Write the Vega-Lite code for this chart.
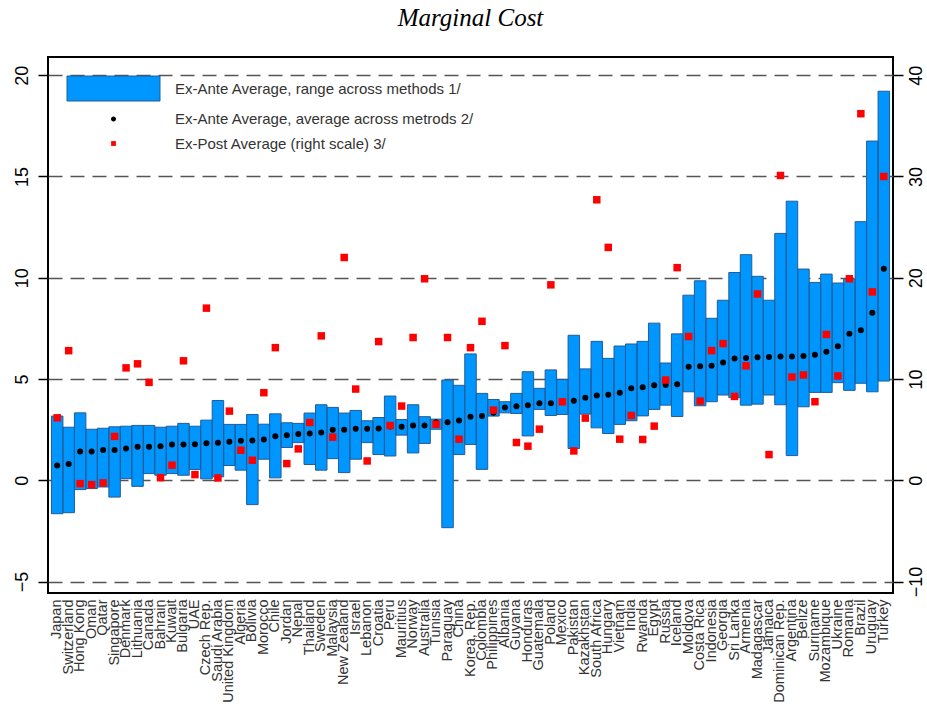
{
  "$schema": "https://vega.github.io/schema/vega-lite/v6.json",
  "autosize": {"type": "none"},
  "width": 845,
  "height": 536,
  "padding": {"left": 48, "top": 57, "right": 34, "bottom": 115},
  "background": "white",
  "title": {"text": "Marginal Cost", "font": "Liberation Serif", "fontStyle": "italic", "fontWeight": "normal", "fontSize": 25, "color": "black", "anchor": "middle", "frame": "group", "offset": 26},
  "config": {"view": {"stroke": "black", "strokeWidth": 2}},
  "data": {"values": [
    {"c": "Japan", "lo": -1.65, "hi": 3.17, "avg": 0.73, "post": 6.17},
    {"c": "Switzerland", "lo": -1.60, "hi": 2.62, "avg": 0.81, "post": 12.8},
    {"c": "Hong Kong", "lo": -0.46, "hi": 3.33, "avg": 1.42, "post": -0.33},
    {"c": "Oman", "lo": -0.41, "hi": 2.52, "avg": 1.42, "post": -0.43},
    {"c": "Qatar", "lo": -0.33, "hi": 2.57, "avg": 1.49, "post": -0.26},
    {"c": "Singapore", "lo": -0.83, "hi": 2.64, "avg": 1.49, "post": 4.33},
    {"c": "Denmark", "lo": 0.08, "hi": 2.67, "avg": 1.57, "post": 11.1},
    {"c": "Lithuania", "lo": -0.30, "hi": 2.71, "avg": 1.65, "post": 11.5},
    {"c": "Canada", "lo": 0.33, "hi": 2.71, "avg": 1.65, "post": 9.67},
    {"c": "Bahrain", "lo": 0.25, "hi": 2.62, "avg": 1.68, "post": 0.26},
    {"c": "Kuwait", "lo": 0.33, "hi": 2.67, "avg": 1.77, "post": 1.49},
    {"c": "Bulgaria", "lo": 0.25, "hi": 2.81, "avg": 1.77, "post": 11.8},
    {"c": "UAE", "lo": 0.53, "hi": 2.67, "avg": 1.78, "post": 0.56},
    {"c": "Czech Rep.", "lo": 0.07, "hi": 2.97, "avg": 1.83, "post": 17.0},
    {"c": "Saudi Arabia", "lo": 0.17, "hi": 3.94, "avg": 1.85, "post": 0.23},
    {"c": "United Kingdom", "lo": 0.73, "hi": 2.76, "avg": 1.90, "post": 6.83},
    {"c": "Algeria", "lo": 0.50, "hi": 2.76, "avg": 1.95, "post": 2.97},
    {"c": "Bolivia", "lo": -1.20, "hi": 3.25, "avg": 1.96, "post": 1.98},
    {"c": "Morocco", "lo": 1.04, "hi": 2.77, "avg": 2.01, "post": 8.65},
    {"c": "Chile", "lo": 0.12, "hi": 3.28, "avg": 2.18, "post": 13.1},
    {"c": "Jordan", "lo": 1.62, "hi": 2.84, "avg": 2.23, "post": 1.65},
    {"c": "Nepal", "lo": 1.86, "hi": 2.81, "avg": 2.29, "post": 3.10},
    {"c": "Thailand", "lo": 0.78, "hi": 3.32, "avg": 2.31, "post": 5.71},
    {"c": "Sweden", "lo": 0.50, "hi": 3.73, "avg": 2.36, "post": 14.26},
    {"c": "Malaysia", "lo": 1.07, "hi": 3.60, "avg": 2.49, "post": 4.26},
    {"c": "New Zealand", "lo": 0.38, "hi": 3.32, "avg": 2.49, "post": 22.0},
    {"c": "Israel", "lo": 1.04, "hi": 3.45, "avg": 2.54, "post": 9.01},
    {"c": "Lebanon", "lo": 1.86, "hi": 2.94, "avg": 2.54, "post": 1.91},
    {"c": "Croatia", "lo": 1.27, "hi": 3.10, "avg": 2.56, "post": 13.7},
    {"c": "Peru", "lo": 1.20, "hi": 4.16, "avg": 2.66, "post": 5.41},
    {"c": "Mauritius", "lo": 2.23, "hi": 3.00, "avg": 2.64, "post": 7.33},
    {"c": "Norway", "lo": 1.35, "hi": 3.73, "avg": 2.71, "post": 14.1},
    {"c": "Australia", "lo": 1.82, "hi": 3.14, "avg": 2.71, "post": 19.9},
    {"c": "Tunisia", "lo": 2.52, "hi": 3.02, "avg": 2.86, "post": 5.54},
    {"c": "Paraguay", "lo": -2.34, "hi": 4.95, "avg": 2.87, "post": 14.1},
    {"c": "China", "lo": 1.27, "hi": 4.69, "avg": 2.95, "post": 4.06},
    {"c": "Korea, Rep.", "lo": 1.77, "hi": 6.24, "avg": 3.14, "post": 13.1},
    {"c": "Colombia", "lo": 0.54, "hi": 4.29, "avg": 3.17, "post": 15.7},
    {"c": "Philippines", "lo": 3.17, "hi": 3.99, "avg": 3.33, "post": 6.93},
    {"c": "Albania", "lo": 3.33, "hi": 3.88, "avg": 3.60, "post": 13.3},
    {"c": "Guyana", "lo": 3.30, "hi": 4.29, "avg": 3.66, "post": 3.73},
    {"c": "Honduras", "lo": 2.19, "hi": 5.36, "avg": 3.71, "post": 3.37},
    {"c": "Guatemala", "lo": 3.50, "hi": 4.54, "avg": 3.81, "post": 5.05},
    {"c": "Poland", "lo": 3.20, "hi": 5.45, "avg": 3.81, "post": 19.3},
    {"c": "Mexico", "lo": 3.25, "hi": 4.98, "avg": 3.88, "post": 7.75},
    {"c": "Pakistan", "lo": 1.57, "hi": 7.16, "avg": 3.93, "post": 2.90},
    {"c": "Kazakhstan", "lo": 3.27, "hi": 5.50, "avg": 4.08, "post": 6.14},
    {"c": "South Africa", "lo": 2.59, "hi": 6.86, "avg": 4.19, "post": 27.7},
    {"c": "Hungary", "lo": 2.31, "hi": 6.02, "avg": 4.22, "post": 23.0},
    {"c": "Vietnam", "lo": 2.76, "hi": 6.63, "avg": 4.32, "post": 4.06},
    {"c": "India", "lo": 2.94, "hi": 6.73, "avg": 4.54, "post": 6.40},
    {"c": "Rwanda", "lo": 3.18, "hi": 6.86, "avg": 4.59, "post": 4.03},
    {"c": "Egypt", "lo": 3.50, "hi": 7.76, "avg": 4.69, "post": 5.35},
    {"c": "Russia", "lo": 3.71, "hi": 5.79, "avg": 4.70, "post": 9.90},
    {"c": "Iceland", "lo": 3.15, "hi": 7.23, "avg": 4.74, "post": 21.0},
    {"c": "Moldova", "lo": 4.37, "hi": 9.14, "avg": 5.61, "post": 14.2},
    {"c": "Costa Rica", "lo": 3.68, "hi": 9.85, "avg": 5.63, "post": 7.82},
    {"c": "Indonesia", "lo": 3.88, "hi": 8.00, "avg": 5.66, "post": 12.8},
    {"c": "Georgia", "lo": 4.21, "hi": 8.89, "avg": 5.82, "post": 13.5},
    {"c": "Sri Lanka", "lo": 4.08, "hi": 10.26, "avg": 6.01, "post": 8.28},
    {"c": "Armenia", "lo": 3.71, "hi": 11.14, "avg": 6.04, "post": 11.3},
    {"c": "Madagascar", "lo": 3.76, "hi": 10.07, "avg": 6.07, "post": 18.4},
    {"c": "Jamaica", "lo": 4.21, "hi": 8.89, "avg": 6.09, "post": 2.54},
    {"c": "Dominican Rep.", "lo": 3.73, "hi": 12.19, "avg": 6.11, "post": 30.1},
    {"c": "Argentina", "lo": 1.22, "hi": 13.78, "avg": 6.11, "post": 10.2},
    {"c": "Belize", "lo": 3.63, "hi": 10.43, "avg": 6.14, "post": 10.4},
    {"c": "Suriname", "lo": 4.34, "hi": 9.77, "avg": 6.20, "post": 7.76},
    {"c": "Mozambique", "lo": 4.34, "hi": 10.18, "avg": 6.35, "post": 14.4},
    {"c": "Ukraine", "lo": 4.82, "hi": 9.74, "avg": 6.62, "post": 10.3},
    {"c": "Romania", "lo": 4.44, "hi": 9.93, "avg": 7.23, "post": 19.9},
    {"c": "Brazil", "lo": 4.79, "hi": 12.77, "avg": 7.41, "post": 36.2},
    {"c": "Uruguay", "lo": 4.37, "hi": 16.75, "avg": 8.27, "post": 18.6},
    {"c": "Turkey", "lo": 4.90, "hi": 19.21, "avg": 10.45, "post": 30.0}
  ]},
  "encoding": {
    "x": {"field": "c", "type": "nominal", "sort": null,
      "scale": {"paddingInner": 0, "paddingOuter": 0.3},
      "axis": {"title": null, "labelAngle": -90, "labelAlign": "right", "labelBaseline": "middle", "labelFont": "Liberation Sans", "labelFontSize": 14.5, "labelColor": "#333", "ticks": false, "tickSize": 0, "domain": false, "labelPadding": 6, "labelOverlap": false, "labelLimit": 0}}
  },
  "layer": [
    {"layer": [
      {"mark": {"type": "bar"},
       "encoding": {
         "y": {"field": "lo", "type": "quantitative",
           "scale": {"domain": [-5.565, 20.9], "nice": false, "zero": false},
           "axis": {"title": null, "values": [-5, 0, 5, 10, 15, 20], "grid": true, "gridColor": "#555", "gridDash": [14, 8], "gridWidth": 1.3, "domain": false, "ticks": true, "tickSize": 10, "tickColor": "black", "tickWidth": 1.5, "labelAngle": -90, "labelAlign": "center", "labelBaseline": "alphabetic", "labelPadding": 11, "labelFont": "Liberation Sans", "labelFontSize": 18, "labelColor": "black"}},
         "y2": {"field": "hi"},
         "color": {"datum": "Ex-Ante Average, range across methods 1/",
           "scale": {"domain": ["Ex-Ante Average, range across methods 1/", "Ex-Ante Average, average across metrods 2/", "Ex-Post Average (right scale) 3/"], "range": ["#0096ff", "#000000", "#ff0000"]},
           "legend": {"title": null, "orient": "none", "legendX": 55, "legendY": 21, "direction": "vertical", "padding": 0, "symbolSize": 400, "symbolOpacity": 1, "labelFont": "Liberation Sans", "labelFontSize": 15, "labelColor": "#333", "labelOffset": 51, "labelLimit": 0, "rowPadding": 5.5,
             "symbolType": {"expr": "datum.index === 0 ? 'M-4.65,-1.25H4.65V1.25H-4.65Z' : datum.index === 1 ? 'M0.25,0A0.25,0.25,0,1,1,-0.25,0A0.25,0.25,0,1,1,0.25,0Z' : 'M-0.24,-0.24H0.24V0.24H-0.24Z'"},
             "symbolStrokeColor": {"expr": "datum.index === 0 ? '#225c96' : 'transparent'"},
             "symbolStrokeWidth": 1}}
       }},
      {"mark": {"type": "bar", "fillOpacity": 0, "stroke": "#225c96", "strokeWidth": 1},
       "encoding": {
         "y": {"field": "lo", "type": "quantitative"},
         "y2": {"field": "hi"}
       }},
      {"mark": {"type": "point", "filled": true, "shape": "circle", "size": 36, "opacity": 1},
       "encoding": {
         "y": {"field": "avg", "type": "quantitative"},
         "color": {"datum": "Ex-Ante Average, average across metrods 2/"}
       }}
    ]},
    {"mark": {"type": "point", "filled": true, "shape": "square", "size": 56, "opacity": 1},
     "encoding": {
       "y": {"field": "post", "type": "quantitative",
         "scale": {"domain": [-11.13, 41.8], "nice": false, "zero": false},
         "axis": {"orient": "right", "title": null, "values": [-10, 0, 10, 20, 30, 40], "grid": false, "domain": false, "ticks": true, "tickSize": 10, "tickColor": "black", "tickWidth": 1.5, "labelAngle": -90, "labelAlign": "center", "labelBaseline": "top", "labelPadding": 4, "labelFont": "Liberation Sans", "labelFontSize": 18, "labelColor": "black"}},
       "color": {"datum": "Ex-Post Average (right scale) 3/"}
     }}
  ],
  "resolve": {"scale": {"y": "independent"}}
}
